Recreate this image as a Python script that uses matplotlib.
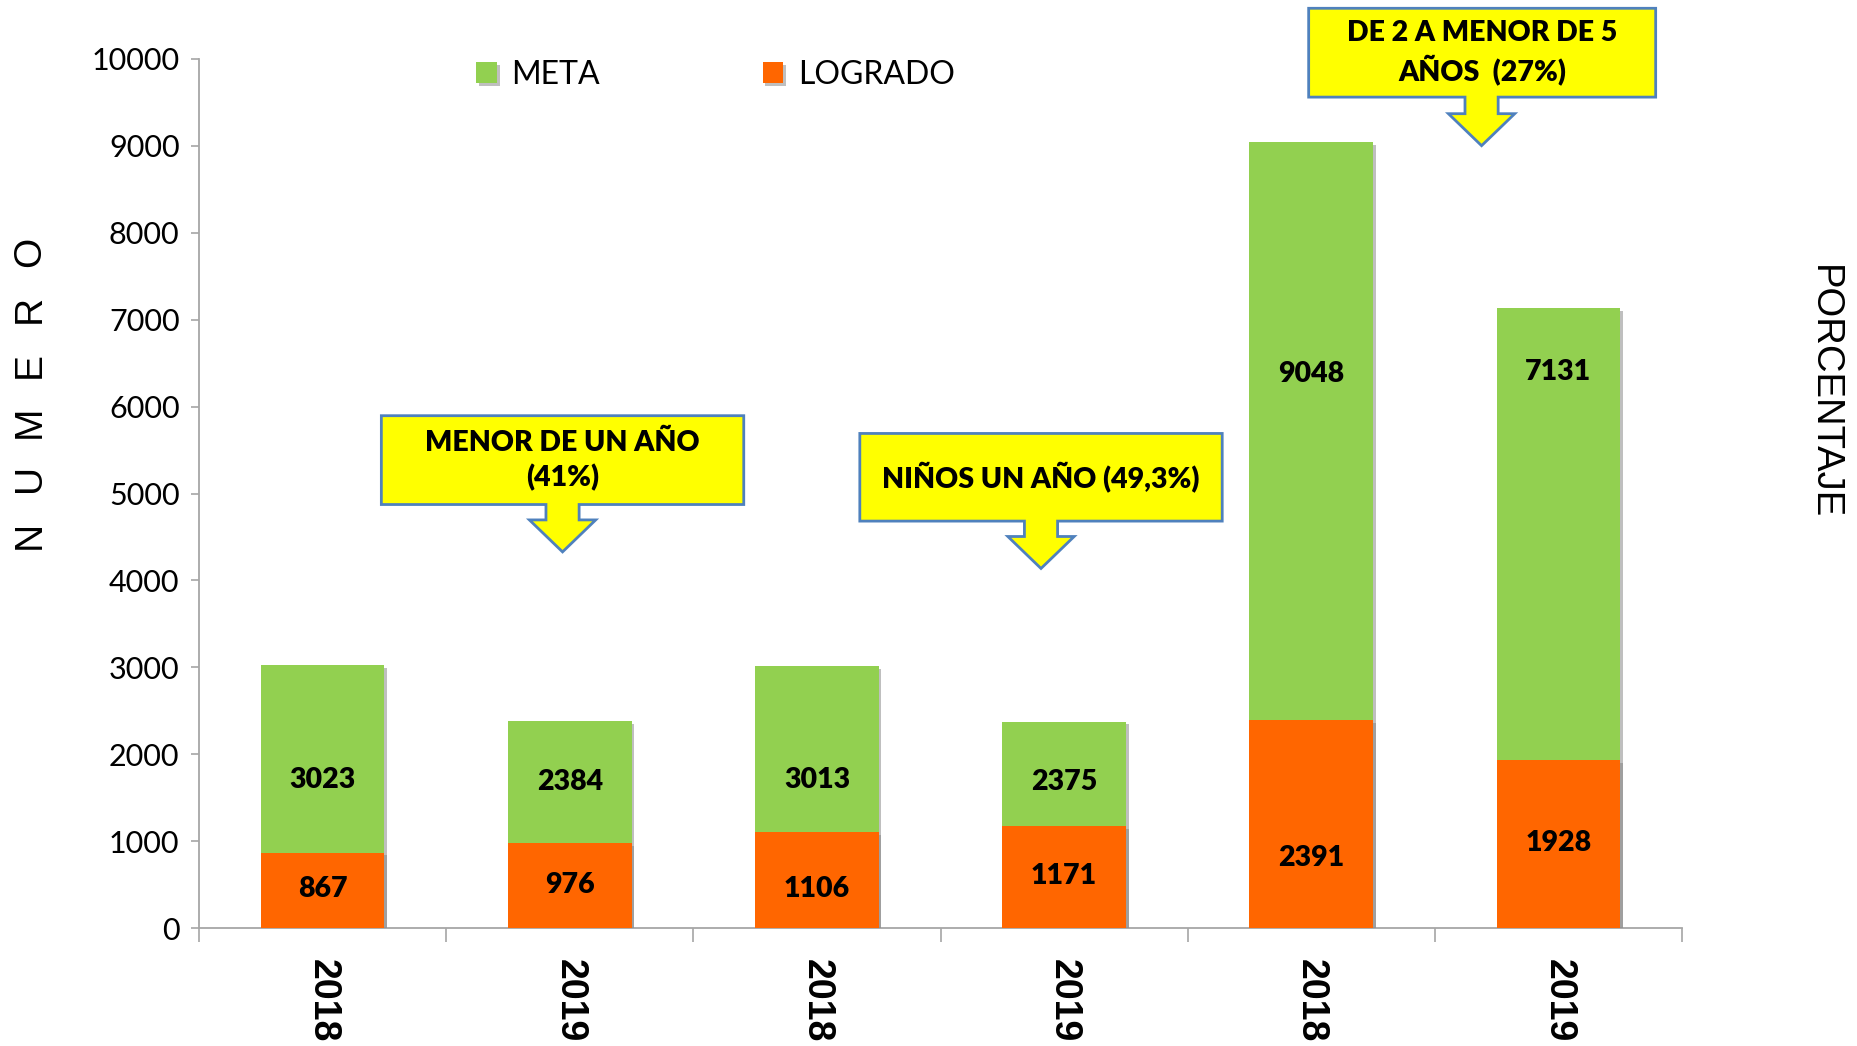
import matplotlib
matplotlib.use("Agg")
import matplotlib.pyplot as plt
from matplotlib.patches import Polygon
import matplotlib.patheffects as pe

# ---------------- data ----------------
categories = ['2018', '2019', '2018', '2019', '2018', '2019']
meta = [3023, 2384, 3013, 2375, 9048, 7131]
logrado = [867, 976, 1106, 1171, 2391, 1928]
meta_label_y = [1703, 1676, 1703, 1676, 6376, 6403]
logrado_label_y = [450, 490, 450, 600, 804, 981]
yticks = list(range(0, 10001, 1000))
callout_texts = ['MENOR DE UN AÑO\n(41%)', 'NIÑOS UN AÑO (49,3%)', 'DE 2 A MENOR DE 5\nAÑOS  (27%)']
ylabel_letters = ['N', 'U', 'M', 'E', 'R', 'O']

GREEN = '#92D050'
ORANGE = '#FF6600'
GRAY = '#A6A6A6'
FONT = 'Lato'

W, H = 1857, 1046
fig = plt.figure(figsize=(W / 100, H / 100), dpi=100)
ax = fig.add_axes([199 / W, 1 - 928 / H, (1682 - 199) / W, (928 - 59) / H])

x = list(range(len(categories)))
shadow = [pe.SimplePatchShadow(offset=(2, -2), shadow_rgbFace='#808080', alpha=0.5), pe.Normal()]
b1 = ax.bar(x, meta, width=0.5, color=GREEN, label='META', zorder=2)
b2 = ax.bar(x, logrado, width=0.5, color=ORANGE, label='LOGRADO', zorder=3)
for p in list(b1) + list(b2):
    p.set_path_effects(shadow)

for i in x:
    ax.text(i, meta_label_y[i], str(meta[i]), ha='center', va='center',
            fontsize=20.5, fontweight='heavy', family=FONT, zorder=5)
    ax.text(i, logrado_label_y[i], str(logrado[i]), ha='center', va='center',
            fontsize=20.5, fontweight='heavy', family=FONT, zorder=5)

ax.set_xlim(-0.5, len(categories) - 0.5)
ax.set_ylim(0, 10000)
ax.set_yticks(yticks)
ax.set_yticklabels([str(v) for v in yticks], family=FONT, fontsize=22)
ax.set_xticks(x)
ax.set_xticklabels(categories, rotation=-90, fontsize=27, fontweight='bold',
                   family='Liberation Sans')
ax.set_xticks([i - 0.5 for i in range(len(categories) + 1)], minor=True)
ax.tick_params(axis='x', which='major', length=0, pad=22)
ax.tick_params(axis='x', which='minor', length=10, color=GRAY, width=1.2, direction='out')
ax.tick_params(axis='y', length=6, color=GRAY, width=1.2, pad=8)
for s in ['top', 'right']:
    ax.spines[s].set_visible(False)
for s in ['left', 'bottom']:
    ax.spines[s].set_color(GRAY)
    ax.spines[s].set_linewidth(1.3)

leg = ax.legend(loc='center left', bbox_to_anchor=(476 / W, 1 - 75 / H), bbox_transform=fig.transFigure,
                ncol=2, frameon=False, prop={'family': FONT, 'size': 23},
                handlelength=0.65, handleheight=0.65, handletextpad=0.45, columnspacing=5.1,
                borderpad=0, borderaxespad=0)

# "N U M E R O" letters, bottom to top
n = len(ylabel_letters)
for k, ch in enumerate(ylabel_letters):
    yy = 535 + (252 - 535) * k / (n - 1)
    fig.text(30 / W, 1 - yy / H, ch, rotation=90, ha='center', va='center',
             fontsize=28, family='Liberation Sans')
fig.text(1824 / W, 1 - 392 / H, 'PORCENTAJE', rotation=-90, ha='center', va='center',
         fontsize=27.5, family='Liberation Sans')

# callouts (pixel geometry in figure space)
S = 1857 / 1568
boxes = [(322, 628, 351, 426, 475, 466), (726, 1032, 366, 440, 879, 480), (1105, 1398, 7, 82, 1251, 123)]
for (x0, x1, y0, y1, tx, ty), txt in zip(boxes, callout_texts):
    hy = ty - 27
    sw, hw = 14, 28
    pts = [(x0, y0), (x1, y0), (x1, y1), (tx + sw, y1), (tx + sw, hy), (tx + hw, hy), (tx, ty),
           (tx - hw, hy), (tx - sw, hy), (tx - sw, y1), (x0, y1)]
    pts = [(px * S / W, 1 - py * S / H) for px, py in pts]
    fig.patches.append(Polygon(pts, closed=True, transform=fig.transFigure, facecolor='#FFFF00',
                               edgecolor='#4F81BD', linewidth=2, zorder=10))
    fig.text((x0 + x1) / 2 * S / W, 1 - (y0 + y1) / 2 * S / H, txt, ha='center', va='center',
             fontsize=20.5, fontweight='heavy', family=FONT, zorder=11, linespacing=1.35)

fig.savefig('out.png', dpi=100)
